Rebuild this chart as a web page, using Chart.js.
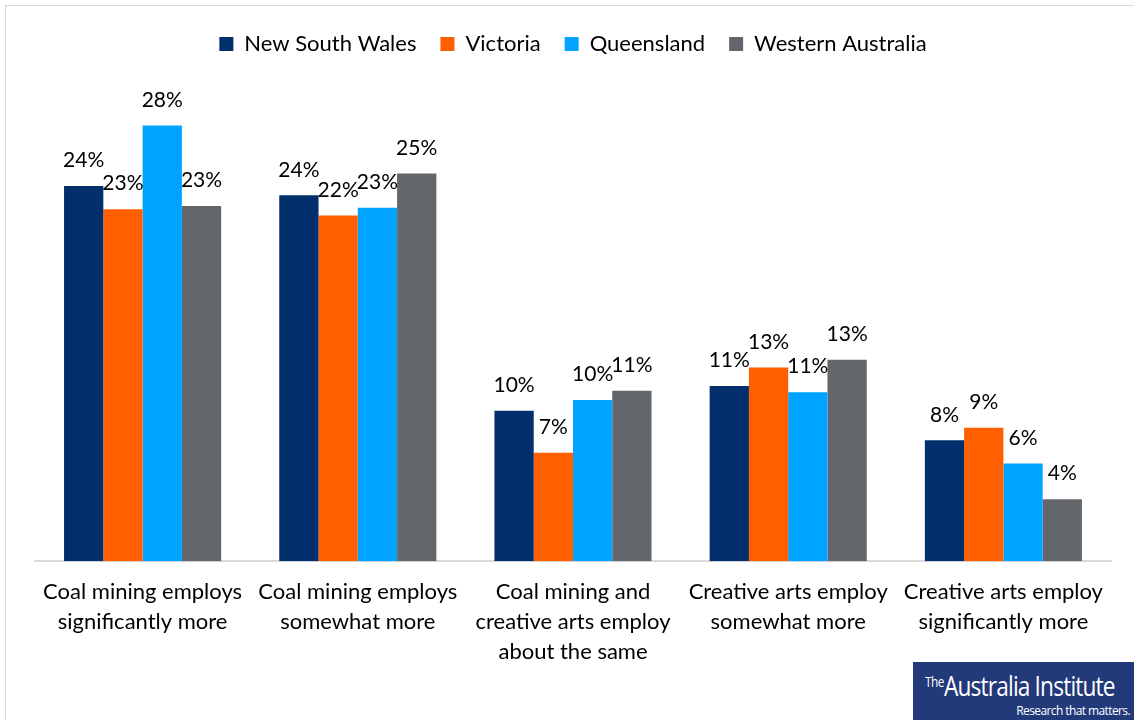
<!DOCTYPE html>
<html>
<head>
<meta charset="utf-8">
<script src="https://cdn.jsdelivr.net/npm/chart.js@4"></script>
<style>
    html, body { margin: 0; padding: 0; background: #fff; }
    #wrap { position: relative; width: 1134px; height: 720px; overflow: hidden; }
    #frame { position: absolute; left: 5px; top: 5px; width: 1140px; height: 740px; border: 1px solid #d9d9d9; box-sizing: border-box; }
    #logo { position: absolute; left: 913px; top: 662px; width: 221px; height: 58px; background: #22397a; color: #fff; font-family: "Open Sans", sans-serif; overflow: hidden; }
    #logo .name { position: absolute; left: 12px; top: 5px; font-size: 27px; letter-spacing: -1px; white-space: nowrap; transform: scaleX(0.84); transform-origin: left top; }
    #logo .name sup { font-size: 14px; letter-spacing: -0.5px; vertical-align: 9px; }
    #logo .tag { position: absolute; right: 4px; top: 40px; font-size: 12px; letter-spacing: -0.6px; white-space: nowrap; }
</style>
</head>
<body>
<div id="wrap">
    <div id="frame"></div>
    <canvas id="chart" width="1134" height="720"></canvas>
    <div id="logo"><div class="name"><sup>The</sup>Australia Institute</div><div class="tag">Research that matters.</div></div>
</div>
<script>
// -- Chart data --
const categories = [
    ['Coal mining employs', 'significantly more'],
    ['Coal mining employs', 'somewhat more'],
    ['Coal mining and', 'creative arts employ', 'about the same'],
    ['Creative arts employ', 'somewhat more'],
    ['Creative arts employ', 'significantly more']
];
const nswValues = [24.2, 23.6, 9.7, 11.3, 7.8];
const vicValues = [22.7, 22.3, 7.0, 12.5, 8.6];
const qldValues = [28.1, 22.8, 10.4, 10.9, 6.3];
const waValues = [22.9, 25.0, 11.0, 13.0, 4.0];

const fontFamily = 'Lato, "Open Sans", sans-serif';

// Draws the percentage above each bar
const barLabels = {
    id: 'barLabels',
    afterDatasetsDraw(chart) {
        const ctx = chart.ctx;
        ctx.save();
        ctx.font = '21px ' + fontFamily;
        ctx.fillStyle = '#000';
        ctx.textAlign = 'center';
        ctx.textBaseline = 'bottom';
        chart.data.datasets.forEach((ds, i) => {
            chart.getDatasetMeta(i).data.forEach((bar, j) => {
                ctx.fillText(Math.round(ds.data[j]) + '%', bar.x, bar.y - 15);
            });
        });
        ctx.restore();
    }
};

// Extra room below the legend
const legendGap = {
    id: 'legendGap',
    beforeInit(chart) {
        const fit = chart.legend.fit;
        chart.legend.fit = function () {
            fit.bind(chart.legend)();
            this.height += 31;
        };
    }
};

const ctx = document.getElementById('chart').getContext('2d');
new Chart(ctx, {
    type: 'bar',
    data: {
        labels: categories,
        datasets: [
            { label: 'New South Wales', data: nswValues, backgroundColor: '#002f6c' },
            { label: 'Victoria', data: vicValues, backgroundColor: '#ff5f00' },
            { label: 'Queensland', data: qldValues, backgroundColor: '#00a3ff' },
            { label: 'Western Australia', data: waValues, backgroundColor: '#63666a' }
        ]
    },
    options: {
        responsive: false,
        animation: false,
        layout: { padding: { left: 35, right: 23, top: 9, bottom: 37 } },
        datasets: {
            bar: { categoryPercentage: 0.73, barPercentage: 1.0 }
        },
        scales: {
            x: {
                grid: { display: false, drawTicks: false },
                border: { color: '#d9d9d9', width: 2 },
                ticks: {
                    color: '#000',
                    padding: 16,
                    maxRotation: 0,
                    font: { family: fontFamily, size: 22, lineHeight: 1.36 }
                }
            },
            y: {
                display: false,
                min: 0,
                max: 30
            }
        },
        plugins: {
            legend: {
                position: 'top',
                labels: {
                    color: '#000',
                    boxWidth: 14,
                    boxHeight: 14,
                    padding: 24,
                    font: { family: fontFamily, size: 22 }
                }
            },
            tooltip: { enabled: false }
        }
    },
    plugins: [barLabels, legendGap]
});
</script>
</body>
</html>
